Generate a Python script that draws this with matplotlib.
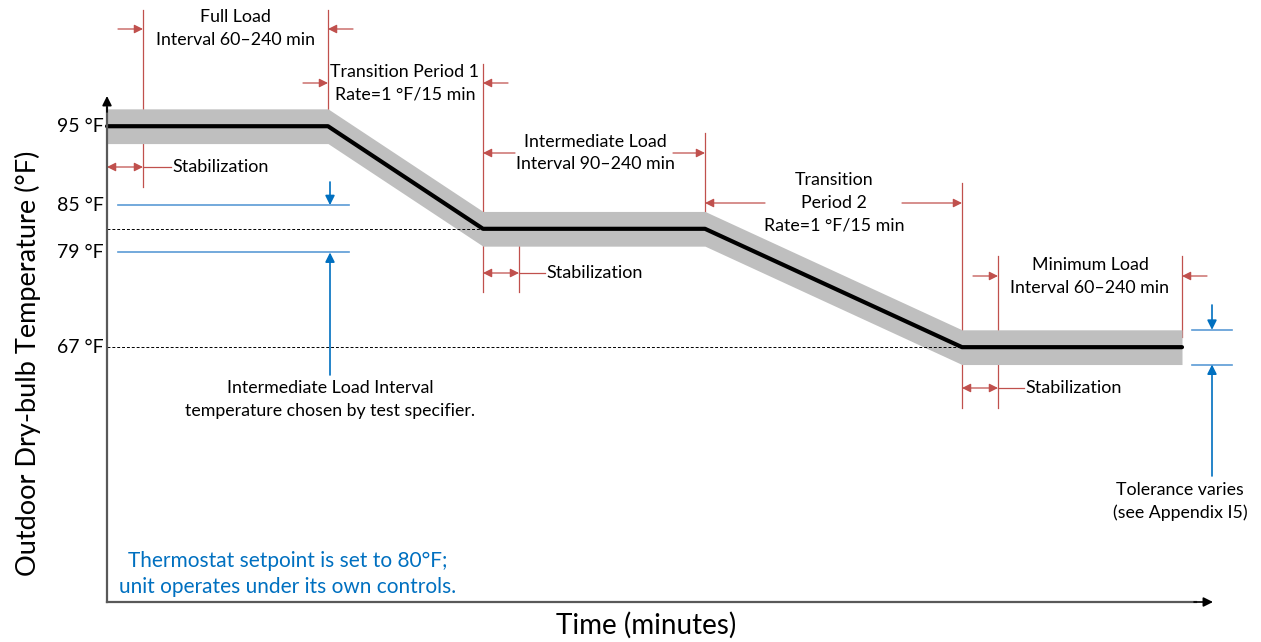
import matplotlib.pyplot as plt

# temperature profile: breakpoints in minutes and outdoor dry-bulb in °F
time_pts = [0, 221, 376, 598, 855, 1075]
temp_pts = [95, 95, 82, 82, 67, 67]
band = 2.2          # tolerance band half width (°F)
stab_len = 36       # stabilization length (min)
tick_temps = [95, 85, 79, 67]
tick_labels = ['95 °F', '85 °F', '79 °F', '67 °F']
choice_range = [85, 79]   # intermediate temperature range

RED = '#c0504d'
BLUE_LINE = '#5b9bd5'
BLUE = '#0070c0'
GRAY_AX = '#595959'
FONT = 'Lato'
FS = 12.8


def yf(py):
    # layout helper: pixel row -> temperature units
    return 81.5 - (py - 232.75) / 7.891


def xf(px):
    # layout helper: pixel column -> minutes
    return px - 107


def vline(x, py0, py1):
    ax.plot([x, x], [yf(py0), yf(py1)], color=RED, lw=0.9, zorder=1)


def harrow(px_from, x_to, py):
    ax.annotate('', xy=(x_to, yf(py)), xytext=(xf(px_from), yf(py)),
                arrowprops=dict(arrowstyle='-|>', color=RED, lw=0.9,
                                mutation_scale=13, shrinkA=0, shrinkB=0))


def stab(x0, py, px_text):
    ax.annotate('', xy=(x0 + stab_len, yf(py)), xytext=(x0, yf(py)),
                arrowprops=dict(arrowstyle='<|-|>', color=RED, lw=0.9,
                                mutation_scale=13, shrinkA=0, shrinkB=0))
    ax.plot([x0 + stab_len, xf(px_text) - 1], [yf(py)] * 2, color=RED, lw=0.9)
    ax.text(xf(px_text), yf(py), 'Stabilization', ha='left', va='center',
            fontsize=13, family=FONT)


def label(px, pys, lines, size=FS, color='black'):
    for py, s in zip(pys, lines):
        ax.text(xf(px), yf(py), s, ha='center', va='center', fontsize=size,
                family=FONT, color=color)


def blue_arrow(x, py_from, y_to):
    ax.annotate('', xy=(x, y_to), xytext=(x, yf(py_from)),
                arrowprops=dict(arrowstyle='-|>', color=BLUE, lw=1.2,
                                mutation_scale=14, shrinkA=0, shrinkB=0))


fig = plt.figure(figsize=(12.61, 6.42), dpi=100)
ax = fig.add_axes([0, 0, 1, 1])
ax.set_xlim(-107, 1154)
ax.set_ylim(yf(642), yf(0))
ax.axis('off')

# tolerance band and profile
lo = [t - band for t in temp_pts]
hi = [t + band for t in temp_pts]
ax.fill_between(time_pts, lo, hi, color='#bfbfbf', lw=0, zorder=2)
ax.plot(time_pts, temp_pts, color='black', lw=3, solid_capstyle='round',
        solid_joinstyle='round', zorder=4)

# dashed reference levels
ax.plot([0, time_pts[2]], [temp_pts[2]] * 2, color='black', lw=0.7,
        dashes=(3, 2), zorder=3)
ax.plot([0, time_pts[4]], [temp_pts[4]] * 2, color='black', lw=0.7,
        dashes=(3, 2), zorder=3)

# axes with arrows
ax.plot([0, 0], [yf(602), yf(108)], color=GRAY_AX, lw=1.6, zorder=5)
ax.plot([0, xf(1196)], [yf(602), yf(602)], color=GRAY_AX, lw=1.6, zorder=5)
ax.annotate('', xy=(0, yf(96)), xytext=(0, yf(112)),
            arrowprops=dict(arrowstyle='-|>', color='black', lw=1.2,
                            mutation_scale=14, shrinkA=0, shrinkB=0), zorder=6)
ax.annotate('', xy=(xf(1213), yf(602)), xytext=(xf(1194), yf(602)),
            arrowprops=dict(arrowstyle='-|>', color='black', lw=1.2,
                            mutation_scale=14, shrinkA=0, shrinkB=0), zorder=6)

for t, s in zip(tick_temps, tick_labels):
    ax.text(xf(104), t, s, ha='right', va='center', fontsize=14, family=FONT)

ax.text(xf(28), yf(363), 'Outdoor Dry-bulb Temperature (°F)', rotation=90,
        ha='center', va='center', fontsize=19.5, family=FONT)
ax.text(xf(646), yf(625), 'Time (minutes)', ha='center', va='center',
        fontsize=20, family=FONT)

# red dimension lines
vline(stab_len, 10, 115)
vline(stab_len, 134, 187)
vline(time_pts[1], 10, 115)
vline(time_pts[2], 64, 292)
vline(time_pts[2] + stab_len, 239, 292)
vline(time_pts[3], 133, 220)
vline(time_pts[4], 183, 408)
vline(time_pts[4] + stab_len, 256, 408)
vline(time_pts[5], 256, 337)

harrow(118, stab_len, 29)
harrow(353, time_pts[1], 29)
harrow(303, time_pts[1], 83)
harrow(508, time_pts[2], 83)
harrow(515, time_pts[2], 153)
harrow(673, time_pts[3], 153)
harrow(765, time_pts[3], 203)
harrow(902, time_pts[4], 203)
harrow(973, time_pts[4] + stab_len, 276)
harrow(1207, time_pts[5], 276)

stab(time_pts[0], 167, 172)
stab(time_pts[2], 273, 546)
stab(time_pts[4], 388, 1025)

label(235, [17, 40], ['Full Load', 'Interval 60–240 min'])
label(405, [72, 95], ['Transition Period 1', 'Rate=1 °F/15 min'])
label(595, [142, 164], ['Intermediate Load', 'Interval 90–240 min'])
label(834, [180, 203, 226], ['Transition', 'Period 2', 'Rate=1 °F/15 min'])
label(1090, [265, 288], ['Minimum Load', 'Interval 60–240 min'])

# intermediate temperature choice
for t in choice_range:
    ax.plot([xf(118), xf(349)], [t, t], color=BLUE_LINE, lw=1.2, zorder=3)
blue_arrow(xf(330), 182, choice_range[0])
blue_arrow(xf(330), 375, choice_range[1])
label(330, [388, 411], ['Intermediate Load Interval',
                        'temperature chosen by test specifier.'])

# tolerance callout
for t in [temp_pts[5] + band, temp_pts[5] - band]:
    ax.plot([xf(1192), xf(1232)], [t, t], color=BLUE_LINE, lw=1.2, zorder=3)
blue_arrow(xf(1212), 305, temp_pts[5] + band)
blue_arrow(xf(1212), 476, temp_pts[5] - band)
label(1180, [490, 513], ['Tolerance varies', '(see Appendix I5)'])

label(288, [561, 587], ['Thermostat setpoint is set to 80°F;',
                        'unit operates under its own controls.'],
      size=15, color=BLUE)

fig.savefig('out.png', dpi=100)
